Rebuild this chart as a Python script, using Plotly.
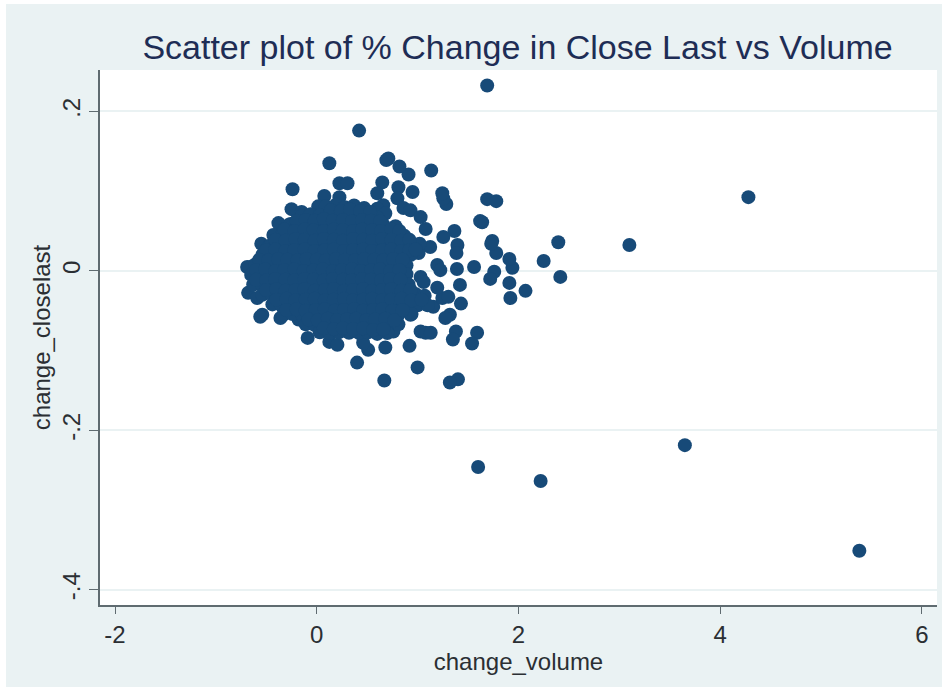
import plotly.graph_objects as go

# (change_volume, change_closelast) values
outer_points = [
    (1.69, .2325), (5.38, -.351), (2.22, -.2635), (1.60, -.246), (3.65, -.2185), (4.28, .0925),
    (3.10, .0325), (2.395, .036), (2.25, .0125), (2.415, -.0075), (2.07, -.025), (1.92, -.034),
    (1.91, -.015), (1.94, .004), (1.91, .015), (1.78, .0225), (1.74, .0375), (1.73, .034),
    (1.64, .061), (1.62, .0625), (1.69, .09), (1.78, .0875), (1.76, -.001), (1.72, -.01),
    (1.56, .005), (1.39, .0025), (1.42, -.0175), (1.43, -.041), (1.59, -.0775), (1.54, -.091),
    (1.38, -.076), (1.35, -.086), (1.40, -.136), (1.32, -.14), (1.0, -.121), (.92, -.094),
    (.67, -.1375), (.40, -.115), (.68, -.096), (.51, -.099), (.46, -.09), (1.03, -.076),
    (1.08, -.0775), (1.13, -.0775), (1.32, -.055), (1.275, -.059), (1.155, -.045), (1.245, -.034),
    (1.305, -.0325), (1.195, -.021), (1.395, .0325), (1.385, .0225), (1.365, .05), (1.255, .0425),
    (1.285, .084), (1.255, .091), (1.245, .0975), (1.135, .126), (.95, .099), (.91, .121),
    (.82, .131), (.71, .141), (.69, .139), (.42, .176), (.125, .135), (-.24, .1025),
    (.225, .11), (.305, .11), (.65, .111), (.60, .0975), (.81, .105), (.80, .091),
    (.075, .094), (.225, .0925), (.015, .081), (-.25, .0775), (-.15, .074), (-.38, .06),
    (-.28, .0575), (-.55, .034), (-.48, .03), (-.66, .005), (-.69, .005), (-.68, -.0275),
    (-.59, -.034), (-.54, -.055), (-.56, -.0575), (-.36, -.059), (-.18, -.061), (-.09, -.084),
    (.125, -.089), (.205, -.0925), (.32, -.0775), (.76, -.076), (.93, -.055), (.86, .079),
    (.93, .076), (1.03, .0675), (1.08, .0525), (1.125, .03), (1.01, .0225), (1.195, .0075),
    (1.225, .001), (1.03, -.0075), (1.06, -.014), (.66, .0825),
]
core_points = [
    (.09, .081), (.19, .083), (.28, .08), (.37, .082), (.47, .079), (.60, .078), (.68, .072),
    (-.15, .069), (-.06, .071), (.03, .07), (.12, .069), (.22, .072), (.31, .068), (.41, .071), (.50, .069), (.60, .067),
    (-.36, .057), (-.26, .059), (-.17, .056), (-.08, .058), (.01, .057), (.10, .059), (.20, .056), (.29, .058), (.38, .057), (.48, .059), (.57, .056), (.66, .058), (.78, .056),
    (-.43, .045), (-.34, .046), (-.24, .044), (-.15, .046), (-.05, .045), (.04, .044), (.14, .046), (.23, .045), (.33, .044), (.42, .046), (.52, .045), (.61, .044), (.71, .046), (.80, .045), (.87, .044),
    (-.46, .032), (-.37, .033), (-.28, .031), (-.18, .033), (-.08, .032), (.02, .034), (.11, .032), (.20, .031), (.30, .033), (.39, .032), (.49, .034), (.58, .031), (.68, .033), (.77, .032), (.87, .031), (.96, .033), (1.02, .034),
    (-.54, .02), (-.45, .021), (-.35, .019), (-.25, .02), (-.16, .021), (-.06, .019), (.03, .02), (.13, .021), (.22, .019), (.32, .02), (.41, .022), (.51, .019), (.60, .02), (.70, .021), (.79, .019), (.87, .021), (.93, .02),
    (-.61, .008), (-.52, .007), (-.43, .009), (-.33, .007), (-.24, .008), (-.14, .006), (-.05, .008), (.05, .009), (.14, .007), (.24, .008), (.33, .006), (.43, .008), (.52, .009), (.62, .007), (.71, .008), (.81, .006), (.89, .007),
    (-.65, -.005), (-.56, -.004), (-.46, -.006), (-.37, -.005), (-.27, -.004), (-.18, -.006), (-.08, -.005), (.01, -.004), (.11, -.006), (.20, -.005), (.30, -.004), (.39, -.006), (.49, -.005), (.58, -.004), (.68, -.006), (.77, -.005), (.89, -.004),
    (-.63, -.017), (-.54, -.018), (-.44, -.016), (-.35, -.018), (-.25, -.017), (-.16, -.016), (-.06, -.018), (.03, -.017), (.13, -.016), (.22, -.018), (.32, -.017), (.41, -.016), (.51, -.018), (.60, -.017), (.70, -.016), (.79, -.018), (.91, -.017),
    (-.54, -.03), (-.45, -.029), (-.35, -.031), (-.26, -.03), (-.16, -.029), (-.07, -.031), (.03, -.03), (.12, -.029), (.22, -.031), (.31, -.03), (.41, -.029), (.50, -.031), (.60, -.03), (.69, -.029), (.79, -.031), (.88, -.03), (.98, -.029), (1.07, -.031),
    (-.44, -.042), (-.35, -.043), (-.25, -.041), (-.16, -.043), (-.06, -.042), (.03, -.041), (.13, -.043), (.22, -.042), (.32, -.041), (.41, -.043), (.51, -.042), (.60, -.041), (.70, -.043), (.79, -.042), (.89, -.041), (1.0, -.043), (1.1, -.043),
    (-.33, -.055), (-.24, -.054), (-.14, -.056), (-.05, -.055), (.05, -.054), (.14, -.056), (.24, -.055), (.33, -.054), (.43, -.056), (.52, -.055), (.62, -.054), (.71, -.056), (.81, -.055), (.94, -.054),
    (-.11, -.067), (-.02, -.068), (.08, -.066), (.17, -.068), (.27, -.067), (.36, -.066), (.46, -.068), (.55, -.067), (.65, -.066), (.74, -.068), (.81, -.067),
    (.03, -.077), (.13, -.078), (.22, -.077), (.42, -.078), (.51, -.077), (.60, -.079), (.70, -.078),
]
core_between_rows = [
    (.14, .076), (.24, .075), (.33, .077), (.43, .075), (.53, .074),
    (-.2, .063), (-.11, .064), (-.02, .063), (.07, .065), (.16, .063), (.26, .064), (.35, .062), (.45, .064), (.54, .063), (.63, .062),
    (-.32, .052), (-.22, .05), (-.12, .052), (-.03, .051), (.07, .05), (.17, .052), (.26, .051), (.36, .05), (.45, .052), (.55, .051), (.64, .05), (.74, .052), (.82, .05),
    (-.41, .039), (-.31, .038), (-.21, .04), (-.12, .039), (-.02, .038), (.07, .04), (.17, .039), (.26, .038), (.36, .04), (.46, .039), (.55, .038), (.65, .04), (.74, .039), (.84, .038), (.92, .039),
    (-.5, .026), (-.41, .027), (-.31, .025), (-.22, .026), (-.12, .027), (-.02, .025), (.08, .026), (.17, .027), (.27, .025), (.36, .026), (.46, .027), (.55, .025), (.65, .026), (.74, .027), (.84, .025), (.92, .026), (.98, .027),
    (-.57, .014), (-.48, .013), (-.38, .015), (-.29, .014), (-.19, .013), (-.1, .015), (0, .014), (.09, .013), (.19, .015), (.28, .014), (.38, .013), (.47, .015), (.57, .014), (.66, .013), (.76, .015), (.85, .014),
    (-.6, .001), (-.51, .002), (-.41, 0), (-.32, .001), (-.22, .002), (-.13, 0), (-.03, .001), (.06, .002), (.16, 0), (.25, .001), (.35, .002), (.44, 0), (.54, .001), (.63, .002), (.73, 0), (.82, .001),
    (-.6, -.011), (-.5, -.012), (-.41, -.01), (-.31, -.011), (-.22, -.012), (-.12, -.01), (-.03, -.011), (.07, -.012), (.16, -.01), (.26, -.011), (.35, -.012), (.45, -.01), (.54, -.011), (.64, -.012), (.73, -.01), (.83, -.011),
    (-.5, -.024), (-.4, -.023), (-.31, -.025), (-.21, -.024), (-.12, -.023), (-.02, -.025), (.08, -.024), (.17, -.023), (.27, -.025), (.36, -.024), (.46, -.023), (.55, -.025), (.65, -.024), (.74, -.023), (.84, -.025), (.93, -.024),
    (-.4, -.036), (-.3, -.035), (-.21, -.037), (-.11, -.036), (-.02, -.035), (.08, -.037), (.17, -.036), (.27, -.035), (.36, -.037), (.46, -.036), (.55, -.035), (.65, -.037), (.74, -.036), (.84, -.035), (.94, -.037), (1.04, -.036),
    (-.3, -.049), (-.2, -.048), (-.11, -.05), (-.01, -.049), (.08, -.048), (.18, -.05), (.27, -.049), (.37, -.048), (.46, -.05), (.56, -.049), (.65, -.048), (.75, -.05), (.85, -.049),
    (-.08, -.061), (.01, -.062), (.11, -.06), (.2, -.062), (.3, -.061), (.39, -.06), (.49, -.062), (.58, -.061), (.68, -.06), (.77, -.062),
    (.07, -.072), (.17, -.073), (.26, -.072), (.36, -.073), (.46, -.072), (.56, -.074), (.66, -.073),
]
points = outer_points + core_points + core_between_rows
change_volume = [p[0] for p in points]
change_closelast = [p[1] for p in points]

x_ticks = [-2, 0, 2, 4, 6]
x_tick_labels = ["-2", "0", "2", "4", "6"]
y_ticks = [-.4, -.2, 0, .2]
y_tick_labels = ["-.4", "-.2", "0", ".2"]

fig = go.Figure(go.Scatter(
    x=change_volume, y=change_closelast, mode="markers",
    marker=dict(size=14, color="#174a78", line=dict(width=0)),
    showlegend=False,
))
axis_color = "#5f6b70"
tick_font = dict(family="Liberation Sans, Arial, sans-serif", size=24, color="#2b2f33")
title_font = dict(family="Liberation Sans, Arial, sans-serif", size=24, color="#2b2f33")
fig.update_layout(
    width=936, height=683, autosize=False,
    margin=dict(l=94, r=5, t=66, b=82),
    paper_bgcolor="#eaf2f3", plot_bgcolor="#ffffff",
    title=dict(text="Scatter plot of % Change in Close Last vs Volume",
               font=dict(family="Liberation Sans, Arial, sans-serif", size=34, color="#1e2d55"),
               x=0.5465, xanchor="center", y=0.937, yanchor="middle"),
    xaxis=dict(range=[-2.149, 6.15], tickvals=x_ticks, ticktext=x_tick_labels, ticks="outside", ticklen=7, tickwidth=1.3,
               tickcolor=axis_color, showline=True, linecolor=axis_color, linewidth=1.5,
               showgrid=False, zeroline=False, tickfont=tick_font,
               title=dict(text="change_volume", font=title_font, standoff=0)),
    yaxis=dict(range=[-.419, .252], tickvals=y_ticks, ticktext=y_tick_labels, tickangle=-90,
               ticks="outside", ticklen=9, tickwidth=1.3, tickcolor=axis_color,
               showline=True, linecolor=axis_color, linewidth=1.5,
               showgrid=True, gridcolor="#eaf2f3", gridwidth=1.5, zeroline=False, tickfont=tick_font,
               title=dict(text="change_closelast", font=title_font, standoff=0)),
)
fig.write_html("out.html", post_script="document.body.style.margin='4px 6px';document.body.style.background='#ffffff';")
